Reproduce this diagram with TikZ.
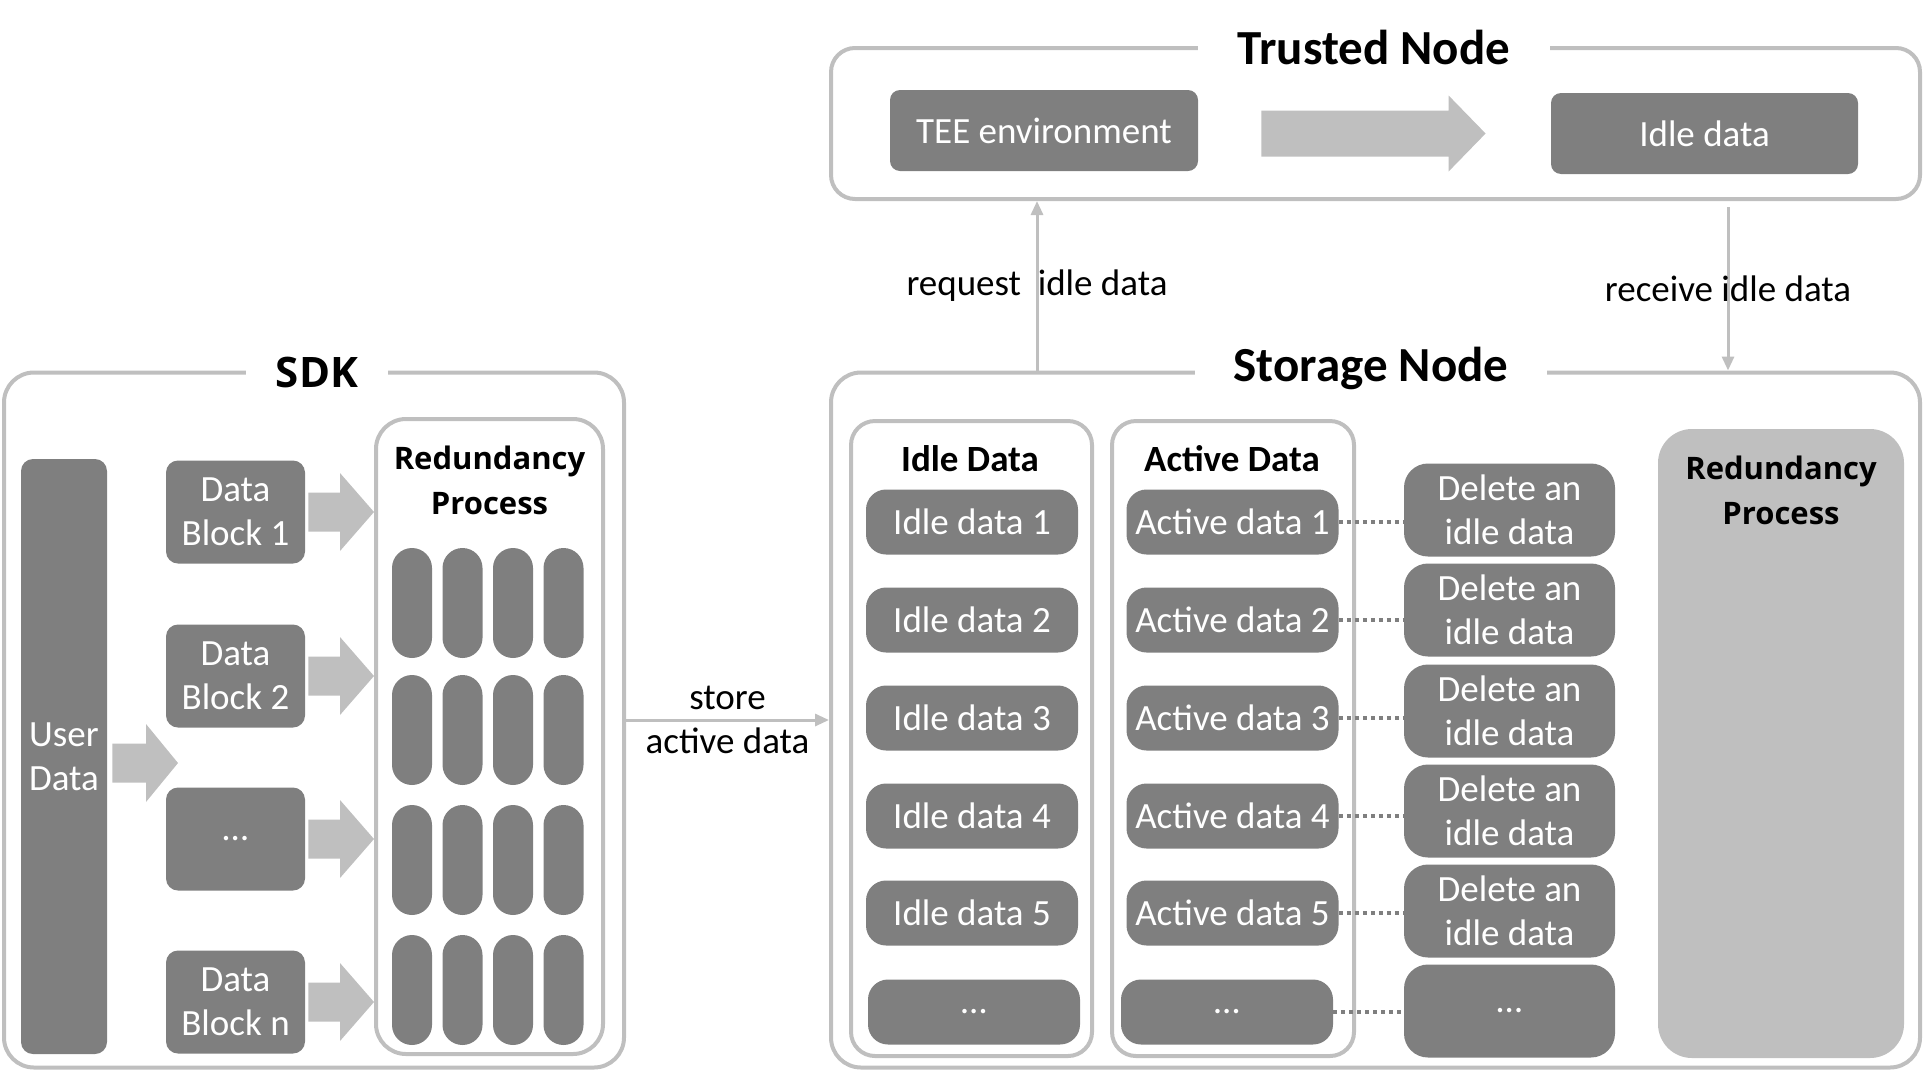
\documentclass[tikz,border=0pt]{standalone}
\usepackage{fontspec}
\setmainfont{Carlito}
\newfontfamily\headfont{Open Sans}
\usetikzlibrary{calc,arrows.meta}

\definecolor{boxgray}{HTML}{7F7F7F}
\definecolor{linegray}{HTML}{BFBFBF}

\newcommand\bodysize{\fontsize{18.5}{22}\selectfont}

% wide grey arrow: start, end, half shaft, half head, head length
\newcommand\bigarrow[5]{%
  \fill[linegray] let \p1=#1, \p2=#2 in
    (\x1,\y2+#3) -- (\x2-#5,\y2+#3) -- (\x2-#5,\y2+#4) -- (\x2,\y2)
    -- (\x2-#5,\y2-#4) -- (\x2-#5,\y2-#3) -- (\x1,\y2-#3) -- cycle;}

\tikzset{
  outerbox/.style={draw=linegray, line width=2pt, rounded corners=15pt, inner sep=0pt},
  colbox/.style={draw=linegray, line width=2pt, rounded corners=12pt, inner sep=0pt},
  databox/.style={fill=boxgray, text=white, font=\bodysize, align=center, inner sep=0pt},
  blockbox/.style={databox, rounded corners=6pt, minimum width=69.5pt, minimum height=51.5pt},
  itembox/.style={databox, rounded corners=10pt, minimum width=106pt, minimum height=32.5pt},
  delbox/.style={databox, rounded corners=12pt, minimum width=105.5pt, minimum height=46.5pt},
  pill/.style={fill=boxgray, rounded corners=10pt, minimum width=20pt, minimum height=55pt, inner sep=0pt},
  boxtitle/.style={fill=white, font=\bfseries\fontsize{24.5}{28}\selectfont, inner xsep=20pt},
  coltitle/.style={font=\bfseries\bodysize},
  rptitle/.style={font=\headfont\bfseries\fontsize{15.5}{22.5}\selectfont, align=center},
  lbl/.style={font=\bodysize, align=center},
  flow/.style={draw=linegray, line width=1.5pt, -{Triangle[length=7pt,width=6pt]}},
  dotlink/.style={draw=boxgray, line width=2pt, dash pattern=on 2pt off 2pt},
}

\begin{document}
\begin{tikzpicture}[x=0.5pt, y=-0.5pt]
    \useasboundingbox (0,0) rectangle (1926,1072);

    % SDK side
    \node[outerbox, minimum width=310pt, minimum height=347.5pt] (sdk) at (314,720) {};
    \node[boxtitle, font=\headfont\bfseries\fontsize{21}{24}\selectfont, inner xsep=15pt] (sdktitle) at (317,372) {SDK};

    \node[databox, rounded corners=6pt, minimum width=43pt, minimum height=297.5pt] (user) at (64,756.5) {User\\Data};
    \coordinate (fan) at (178,763);

    \node[blockbox] (db1) at (235.5,512) {Data\\Block 1};
    \node[blockbox] (db2) at (235.5,676) {Data\\Block 2};
    \node[blockbox] (db3) at (235.5,839) {…};
    \node[blockbox] (dbn) at (235.5,1002) {Data\\Block n};

    \node[colbox, rounded corners=15pt, minimum width=113.5pt, minimum height=317.5pt] (rp) at (489.5,736.5) {};
    \node[rptitle] (rptext) at (489.5,480) {Redundancy\\Process};
    \foreach \r [count=\i] in {603,730,860,990}
        \foreach \c [count=\j] in {412,462.5,513,563.5}
            \node[pill] (p\i\j) at (\c,\r) {};

    \bigarrow{($(user.east)+(5,0)$)}{(fan)}{9.75pt}{19.5pt}{16pt}
    \foreach \b in {db1,db2,db3,dbn} {
        \bigarrow{($(\b.east)+(3,0)$)}{(\b.east -| rp.west)}{9.75pt}{19.5pt}{17pt}
    }

    % storage node
    \node[outerbox, minimum width=544.5pt, minimum height=347.5pt] (storage) at (1375.5,720) {};
    \node[boxtitle, inner xsep=19.5pt] (sttitle) at (1371,368) {Storage Node};

    \node[colbox, minimum width=120.5pt, minimum height=317.5pt] (idlecol) at (971.5,738.5) {};
    \node[colbox, minimum width=121pt, minimum height=317.5pt] (actcol) at (1233,738.5) {};
    \node[coltitle] (idlehead) at (970,459) {Idle Data};
    \node[coltitle] (acthead) at (1232,459) {Active Data};

    \foreach \y [count=\i] in {522,620,718,816,913} {
        \node[itembox] (idle\i) at (972,\y) {Idle data \i};
        \node[itembox] (act\i) at (1232.5,\y) {Active data \i};
    }
    \node[itembox] (idle6) at (974,1012) {…};
    \node[itembox] (act6) at (1227,1012) {…};

    \foreach \y [count=\i] in {510,610,711,811,911}
        \node[delbox] (del\i) at (1509.5,\y) {Delete an\\idle data};
    \node[delbox] (del6) at (1509.5,1011) {…};
    \foreach \i in {1,...,6}
        \draw[dotlink] (act\i.east) -- (act\i.east -| del\i.west);

    \node[fill=linegray, rounded corners=17pt, minimum width=123pt, minimum height=314.5pt] (rp2) at (1781,743.5) {};
    \node[rptitle] (rp2text) at (1781,490) {Redundancy\\Process};

    % trusted node
    \node[outerbox, rounded corners=12pt, minimum width=544.5pt, minimum height=75.5pt] (trusted) at (1375.5,123.5) {};
    \node[boxtitle] (trtitle) at (1374,47) {Trusted Node};
    \node[databox, rounded corners=5pt, minimum width=154pt, minimum height=40.5pt] (tee) at (1044,130.5) {TEE environment};
    \node[databox, rounded corners=5pt, minimum width=153.5pt, minimum height=40.5pt] (idletr) at (1704.5,133.5) {Idle data};
    \bigarrow{($(tee.east)+(63,0)$)}{($(idletr.west)+(-65,0)$)}{11.5pt}{19pt}{18.5pt}

    % links
    \coordinate (req) at (1037,0);
    \coordinate (rcv) at (1728,0);
    \draw[flow] (req |- storage.north) -- node[lbl] (reqtext) {request\ \ idle data} (req |- trusted.south);
    \draw[flow] ($(rcv |- trusted.south)+(0,6)$) -- node[lbl] (rcvtext) {receive idle data} (rcv |- storage.north);
    \draw[flow] (sdk.east) -- node[lbl] (storetext) {store\\active data} (storage.west);

\end{tikzpicture}
\end{document}
